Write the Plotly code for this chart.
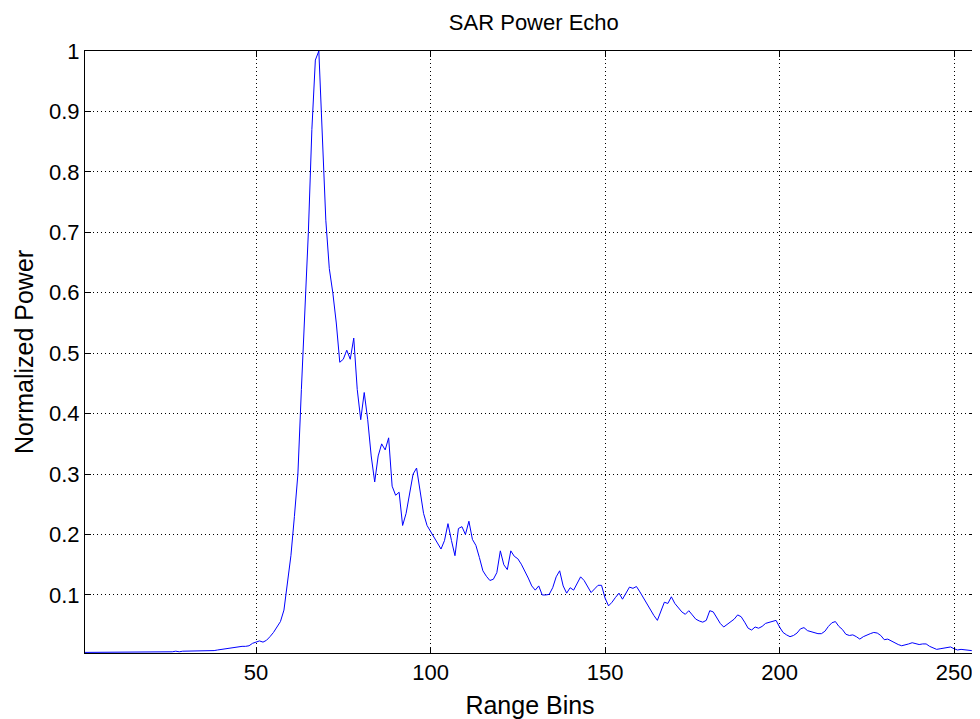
import plotly.graph_objects as go

# Normalized power per range bin (bins 1..256)
power_low = [0.005, 0.005, 0.005, 0.005, 0.005, 0.005, 0.005, 0.005, 0.005, 0.005,
             0.005, 0.005, 0.005, 0.005, 0.005, 0.005, 0.005, 0.005, 0.005, 0.005,
             0.005, 0.005, 0.005, 0.005, 0.006, 0.006, 0.007, 0.006, 0.007, 0.007,
             0.007, 0.007, 0.007, 0.007, 0.007, 0.007, 0.007, 0.008, 0.009, 0.010,
             0.011, 0.011, 0.012, 0.014, 0.014, 0.015, 0.015, 0.016, 0.020, 0.022,
             0.024, 0.022, 0.025, 0.031, 0.038, 0.047, 0.056, 0.075, 0.120, 0.165]
power_peak = [0.230, 0.300, 0.440, 0.560, 0.700, 0.870, 0.985, 1.000, 0.860, 0.720,
              0.640, 0.600, 0.550, 0.485, 0.490, 0.505, 0.490, 0.525, 0.440, 0.390,
              0.435, 0.390, 0.330, 0.287, 0.330, 0.350, 0.340, 0.360, 0.280, 0.265,
              0.270, 0.215, 0.235, 0.270, 0.300, 0.310, 0.270, 0.235, 0.215, 0.205]
power_mid = [0.195, 0.185, 0.176, 0.190, 0.218, 0.190, 0.165, 0.210, 0.213, 0.200,
             0.222, 0.192, 0.182, 0.162, 0.140, 0.131, 0.124, 0.126, 0.137, 0.173,
             0.150, 0.142, 0.173, 0.164, 0.160, 0.151, 0.140, 0.128, 0.115, 0.108,
             0.115, 0.100, 0.100, 0.101, 0.112, 0.130, 0.140, 0.115, 0.103, 0.112,
             0.108, 0.120, 0.130, 0.124, 0.115, 0.104, 0.110, 0.116, 0.116, 0.095,
             0.082, 0.088, 0.096, 0.103, 0.093, 0.103, 0.113, 0.111, 0.114, 0.105]
power_tail = [0.095, 0.085, 0.077, 0.066, 0.058, 0.073, 0.088, 0.086, 0.097, 0.086,
              0.079, 0.072, 0.068, 0.074, 0.067, 0.060, 0.057, 0.055, 0.058, 0.074,
              0.072, 0.063, 0.053, 0.047, 0.051, 0.056, 0.060, 0.067, 0.064, 0.055,
              0.045, 0.042, 0.047, 0.045, 0.048, 0.053, 0.055, 0.056, 0.058, 0.047,
              0.038, 0.034, 0.031, 0.033, 0.037, 0.044, 0.046, 0.041, 0.039, 0.038,
              0.036, 0.036, 0.040, 0.048, 0.054, 0.056, 0.048, 0.043, 0.035, 0.033,
              0.034, 0.031, 0.027, 0.031, 0.034, 0.036, 0.038, 0.037, 0.033, 0.026,
              0.027, 0.024, 0.020, 0.018, 0.016, 0.017, 0.019, 0.021, 0.020, 0.018,
              0.019, 0.019, 0.015, 0.012, 0.010, 0.011, 0.012, 0.013, 0.014, 0.011,
              0.009, 0.010, 0.009, 0.009, 0.008, 0.005]

power = power_low + power_peak + power_mid + power_tail
range_bins = list(range(1, len(power) + 1))

x_ticks = [50, 100, 150, 200, 250]
y_ticks = [0.1, 0.2, 0.3, 0.4, 0.5, 0.6, 0.7, 0.8, 0.9, 1]
y_tick_labels = ["0.1", "0.2", "0.3", "0.4", "0.5", "0.6", "0.7", "0.8", "0.9", "1"]

FONT = "Liberation Sans, Arial, sans-serif"

fig = go.Figure()
fig.add_trace(go.Scatter(x=range_bins, y=power, mode="lines",
                         line=dict(color="#0000ff", width=1), showlegend=False))

axis_common = dict(
    showline=True, linecolor="black", linewidth=1, mirror="ticks",
    ticks="inside", ticklen=6, tickcolor="black", tickwidth=1,
    showgrid=True, gridcolor="black", gridwidth=1, griddash="1px,3px",
    zeroline=False, tickfont=dict(family=FONT, size=22, color="black"),
)

fig.update_layout(
    width=972, height=711,
    paper_bgcolor="white", plot_bgcolor="white",
    margin=dict(l=77, r=5, t=43, b=66),
    title=dict(text="SAR Power Echo", x=0.541, xanchor="center", y=0.98, yanchor="middle",
               font=dict(family=FONT, size=22, color="black")),
    xaxis=dict(range=[1, 256], tickvals=x_ticks,
               title=dict(text="Range Bins", font=dict(family=FONT, size=25, color="black"), standoff=12),
               **axis_common),
    yaxis=dict(range=[0.004, 1], tickvals=y_ticks, ticktext=y_tick_labels,
               title=dict(text="Normalized Power", font=dict(family=FONT, size=25, color="black"), standoff=8),
               **axis_common),
)

fig.write_html("out.html")
